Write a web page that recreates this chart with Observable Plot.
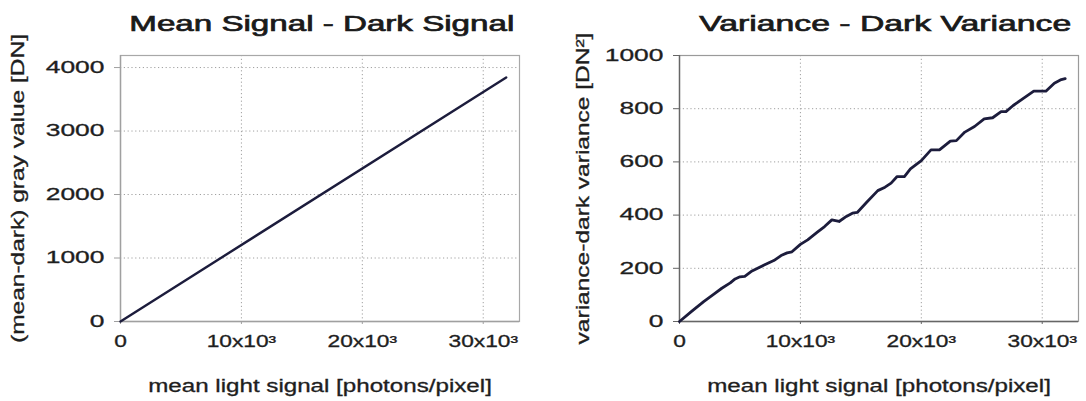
<!DOCTYPE html>
<html>
<head>
<meta charset="utf-8">
<script src="https://cdn.jsdelivr.net/npm/d3@7"></script>
<script src="https://cdn.jsdelivr.net/npm/@observablehq/plot@0.6"></script>
<style>
  body { margin: 0; background: #fff; }
  #wrap { position: relative; width: 1086px; height: 401px; overflow: hidden; background: #fff;
          font-family: "Liberation Sans", Arial, sans-serif; }
  .panel { position: absolute; top: 0; }
  .title { position: absolute; top: 13px; font-weight: normal; font-size: 22px; line-height: 22px;
           color: #1a1a1a; white-space: nowrap; -webkit-text-stroke: 0.7px #1a1a1a; }
</style>
</head>
<body>
<div id="wrap"></div>
<script>
// ---------- data ----------
const titles = ["Mean Signal - Dark Signal", "Variance - Dark Variance"];
const xLabel = "mean light signal [photons/pixel]";
const yLabels = ["(mean-dark) gray value [DN]", "variance-dark variance [DN²]"];

const xTicks = [0, 10000, 20000, 30000];
const xTickLabels = ["0", "10x10³", "20x10³", "30x10³"];
const meanYTicks = [0, 1000, 2000, 3000, 4000];
const varYTicks = [0, 200, 400, 600, 800, 1000];

// mean signal - dark signal (straight line)
const meanX = [0, 31900];
const meanY = [0, 3845];

// variance - dark variance
const varX = [0, 1000, 2000, 2900, 3500, 4200, 4600, 5000, 5400, 6000, 7000, 7800, 8400, 8900, 9300,
  10000, 10600, 11400, 12000, 12600, 13200, 13800, 14300, 14700, 15500, 16400, 17000, 17500, 18000,
  18600, 19100, 20000, 20800, 21500, 22400, 22900, 23600, 24400, 25200, 25900, 26600, 27000, 27600,
  28500, 29300, 30300, 31000, 31500, 31900];
const varY = [0, 38, 75, 105, 125, 145, 160, 168, 170, 190, 212, 229, 248, 258, 262,
  290, 307, 336, 357, 382, 376, 395, 407, 410, 449, 492, 505, 520, 545,
  545, 574, 605, 645, 645, 678, 680, 712, 733, 762, 766, 789, 789, 812,
  841, 866, 866, 896, 908, 913];

// ---------- drawing ----------
const FONT = '"Liberation Sans", Arial, sans-serif';
const STRETCH = {xtick: 1.42, ytick: 1.6, xtitle: 1.38, ytitle: 1.40};
const titleWidths = [385, 372];
const titleCenters = [321.5, 885];

function panel(cfg) {
  const data = cfg.xs.map((x, i) => ({x, y: cfg.ys[i]}));
  const marks = [
    Plot.ruleX(xTicks.slice(1), {stroke: "#a0a0a0", strokeWidth: 1, strokeDasharray: "1.2,2.6"}),
    Plot.ruleY(cfg.yTicks.slice(1), {stroke: "#a0a0a0", strokeWidth: 1, strokeDasharray: "1.2,2.6"}),
    Plot.frame({stroke: cfg.frameColor, strokeWidth: 1.2}),
    Plot.ruleX([0], {stroke: cfg.axisColor, strokeWidth: 1.4}),
    Plot.ruleY([0], {stroke: cfg.axisColor, strokeWidth: 1.4}),
    Plot.axisX(xTicks, {tickFormat: d => xTickLabels[xTicks.indexOf(d)], tickSize: 3, tickPadding: 11,
      stroke: cfg.axisColor, fill: "#1e1e1e", fontSize: 16, label: null}),
    Plot.axisY(cfg.yTicks, {tickFormat: d => String(d), tickSize: 6, tickPadding: 10, stroke: cfg.axisColor,
      fill: "#1e1e1e", fontSize: 16.5, label: null}),
    Plot.line(data, {x: "x", y: "y", stroke: "#1c1c3c", strokeWidth: cfg.lineWidth, curve: "linear"}),
    Plot.text([xLabel], {text: d => d, frameAnchor: "bottom", dy: 65, fontSize: 17.5, fill: "#1e1e1e",
      textAnchor: "middle", lineAnchor: "middle"}),
    Plot.text([cfg.yLabel], {text: d => d, frameAnchor: "left", dx: cfg.yLabelDx, rotate: -90, fontSize: 17.5,
      fill: "#1e1e1e", textAnchor: "middle", lineAnchor: "middle"})
  ];
  return Plot.plot({
    width: 543, height: 401,
    marginLeft: cfg.marginLeft, marginRight: cfg.marginRight, marginTop: 55, marginBottom: 80,
    style: {fontFamily: FONT, fontSize: "16px", background: "white", color: "#1e1e1e", overflow: "visible"},
    x: {domain: [0, 33000]},
    y: {domain: cfg.yDomain},
    marks
  });
}

// stretch texts along their baseline (wide typeface of original) — done after attaching to the DOM
function stretchTexts(svg) {
  svg.querySelectorAll("text").forEach(t => {
    const content = t.textContent;
    let key;
    if (content === xLabel) key = "xtitle";
    else if (yLabels.includes(content)) key = "ytitle";
    else {
      const g = t.closest("g[aria-label]");
      const lab = g ? g.getAttribute("aria-label") : "";
      key = lab.startsWith("y-axis") ? "ytick" : "xtick";
    }
    const s = STRETCH[key];
    const w = t.getComputedTextLength();
    if (w > 0) {
      t.setAttribute("textLength", (w * s).toFixed(2));
      t.setAttribute("lengthAdjust", "spacingAndGlyphs");
    }
    t.setAttribute("stroke", "#1e1e1e");
    t.setAttribute("stroke-width", "0.3");
  });
}

const wrap = document.getElementById("wrap");
const cfgs = [
  {xs: meanX, ys: meanY, yDomain: [0, 4190], yTicks: meanYTicks, yLabel: yLabels[0],
   marginLeft: 120, marginRight: 24, frameColor: "#a8a8a8", axisColor: "#a0a0a0", yLabelDx: -102, lineWidth: 2.4},
  {xs: varX, ys: varY, yDomain: [0, 1000], yTicks: varYTicks, yLabel: yLabels[1],
   marginLeft: 136, marginRight: 8, frameColor: "#9a9a9a", axisColor: "#666", yLabelDx: -96, lineWidth: 2.8}
];
cfgs.forEach((cfg, i) => {
  const div = document.createElement("div");
  div.className = "panel";
  div.style.left = (i * 543) + "px";
  const svg = panel(cfg);
  div.appendChild(svg);
  wrap.appendChild(div);
  stretchTexts(svg);
});
titles.forEach((txt, i) => {
  const el = document.createElement("div");
  el.className = "title";
  el.textContent = txt;
  wrap.appendChild(el);
  const w = el.getBoundingClientRect().width;
  const s = titleWidths[i] / w;
  el.style.left = (titleCenters[i] - w / 2) + "px";
  el.style.transformOrigin = "center";
  el.style.transform = `scaleX(${s})`;
});
</script>
</body>
</html>
